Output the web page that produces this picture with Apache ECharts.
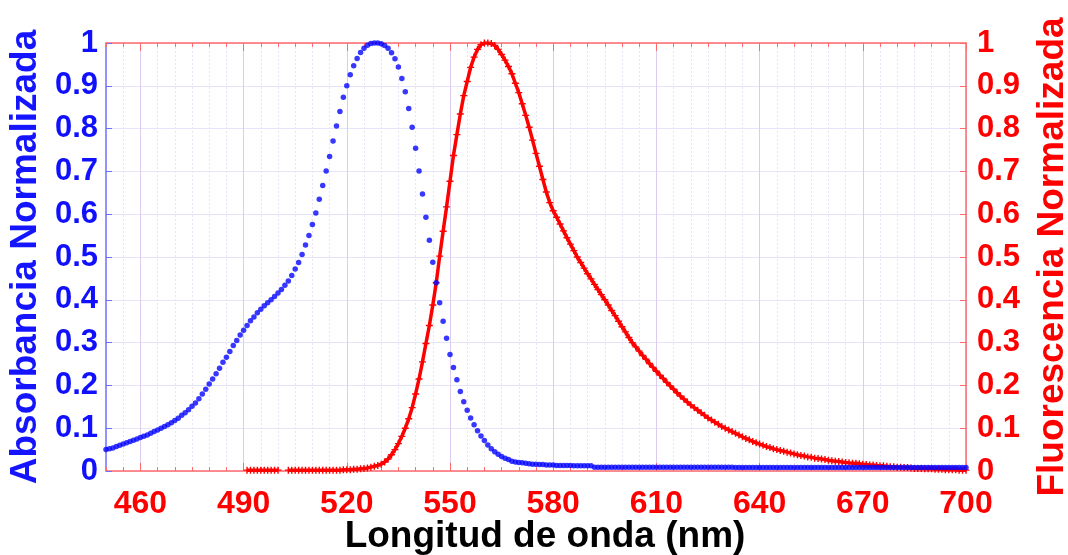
<!DOCTYPE html>
<html>
<head>
<meta charset="utf-8">
<script src="https://cdn.jsdelivr.net/npm/echarts@6/dist/echarts.min.js"></script>
<style>
html,body{margin:0;padding:0;background:#fff;overflow:hidden;width:1068px;height:555px;}
#chart{width:1068px;height:555px;}
</style>
</head>
<body>
<div id="chart"></div>
<script>
// ---- data ----
const xTickLabels = [460, 490, 520, 550, 580, 610, 640, 670, 700];
const yTickLabels = [0, 0.1, 0.2, 0.3, 0.4, 0.5, 0.6, 0.7, 0.8, 0.9, 1];

// Absorbance, 1 nm steps from 450 nm
const absStartNm = 450;
const absorbance = [
  0.050,0.052,0.054,0.057,0.060,0.063,0.066,0.069,0.072,0.075,
  0.078,0.081,0.084,0.088,0.092,0.096,0.100,0.104,0.108,0.113,
  0.118,0.123,0.130,0.136,0.143,0.151,0.159,0.169,0.180,0.191,
  0.203,0.215,0.227,0.240,0.254,0.266,0.279,0.293,0.305,0.318,
  0.329,0.340,0.351,0.360,0.370,0.378,0.386,0.393,0.400,0.408,
  0.416,0.424,0.434,0.444,0.457,0.472,0.487,0.506,0.528,0.550,
  0.576,0.603,0.635,0.667,0.701,0.735,0.771,0.806,0.840,0.873,
  0.900,0.926,0.947,0.964,0.978,0.988,0.995,0.999,1.000,1.000,
  0.998,0.994,0.988,0.977,0.963,0.944,0.917,0.886,0.847,0.803,
  0.754,0.701,0.647,0.593,0.539,0.488,0.440,0.393,0.350,0.310,
  0.272,0.242,0.213,0.186,0.162,0.142,0.124,0.108,0.094,0.082,
  0.071,0.061,0.052,0.045,0.039,0.034,0.030,0.027,0.023,0.021,
  0.020,0.019,0.018,0.017,0.016,0.016,0.015,0.015,0.014,0.014,
  0.014,
  0.013,0.013,0.013,0.013,0.013,0.012,0.012,0.012,0.012,0.012,0.012,
  0.009,0.009,0.009,0.009,0.009,0.009,0.009,0.009,0.009,0.009,
  0.009,0.009,0.009,0.009,0.009,0.009,0.009,0.009,0.009,0.009,
  0.009,0.009,0.009,0.009,0.009,0.009,0.009,0.009,0.009,0.009,
  0.009,0.009,0.009,0.009,0.009,0.009,0.009,0.009,0.009,0.009,
  0.009,
  0.008,0.008,0.008,0.008,0.008,0.008,0.008,0.008,0.008,0.008,
  0.008,0.008,0.008,0.008,0.008,0.008,0.008,0.008,0.008,0.008,
  0.008,0.008,0.008,0.008,0.008,0.008,0.008,0.008,0.008,0.008,
  0.008,0.008,0.008,0.008,0.008,0.008,0.008,0.008,0.008,0.008,
  0.008,0.008,0.008,0.008,0.008,0.008,0.008,0.008,0.008,0.008,
  0.008,0.008,0.008,0.008,0.008,0.008,0.008,0.008,0.008,0.008,
  0.008,0.008,0.008,0.008,0.008,0.008,0.008,0.008
];

// Fluorescence, 1 nm steps from 491 nm (null = no data)
const flStartNm = 491;
const fluorescence = [
  0.002,0.002,0.002,0.002,0.002,0.002,0.002,0.002,0.002,0.002,
  null,null,
  0.002,0.002,0.002,0.002,0.002,0.002,0.002,0.002,0.002,0.002,
  0.002,0.002,0.002,0.002,0.002,0.002,0.003,0.003,
  0.003,0.004,0.004,0.005,0.006,0.007,0.009,0.011,0.013,0.016,
  0.021,0.028,0.038,0.050,0.064,0.081,0.100,0.122,0.148,0.180,
  0.215,0.255,0.298,0.340,0.388,0.440,0.502,0.560,0.617,0.677,
  0.737,0.786,0.834,0.877,0.910,0.943,0.967,0.985,0.996,1.000,
  1.000,0.999,0.994,0.985,0.973,0.960,0.945,0.928,0.906,0.884,
  0.858,0.831,0.803,0.773,0.742,0.712,0.681,0.652,0.627,0.608,
  0.593,0.577,0.561,0.545,0.530,0.515,0.500,0.487,0.474,0.461,
  0.449,0.436,0.424,0.412,0.400,0.388,0.375,0.363,0.350,0.337,
  0.325,0.312,0.300,0.290,0.280,0.270,0.261,0.251,0.242,0.233,
  0.224,0.216,0.207,0.199,0.191,0.183,0.175,0.168,0.161,0.154,
  0.148,0.142,0.136,0.130,0.124,0.119,0.114,0.109,0.104,0.100,
  0.096,0.092,0.088,0.084,0.080,0.076,0.073,0.069,0.066,0.063,
  0.060,0.057,0.055,0.052,0.050,0.048,0.046,0.044,0.042,0.040,
  0.038,0.036,0.035,0.033,0.032,0.030,0.029,0.028,0.027,0.025,
  0.024,0.023,0.022,0.021,0.020,0.019,0.018,0.018,0.017,0.016,
  0.015,0.014,0.014,0.013,0.012,0.012,0.011,0.010,0.010,0.009,
  0.009,0.008,0.008,0.007,0.006,0.006,0.006,0.005,0.005,0.005,
  0.004,0.004,0.004,0.003,0.003,0.003,0.003,0.002,0.002,0.002
];

// ---- build ----
const absData = absorbance.map((v, i) => [absStartNm + i, v]);
const flData = fluorescence.map((v, i) => [flStartNm + i, v]);

const FONT = 'Liberation Sans, Arial, sans-serif';
const RED_AX = '#ff6b6b';
const BLUE_AX = '#7070ff';

const chart = echarts.init(document.getElementById('chart'), null, {renderer: 'canvas', width: 1068, height: 555});
const plusPath = 'path://M4,0H6V4H10V6H6V10H4V6H0V4H4Z';

chart.setOption({
  animation: false,
  backgroundColor: '#ffffff',
  grid: {left: 106, right: 102, top: 43, bottom: 84, containLabel: false, outerBoundsMode: 'none'},
  xAxis: [
    {
      type: 'value', min: 450, max: 700, interval: 5, position: 'bottom',
      axisLine: {show: true, lineStyle: {color: RED_AX, width: 1.5}},
      axisTick: {show: true, inside: true, length: 4, lineStyle: {color: RED_AX}},
      axisLabel: {customValues: xTickLabels, color: '#ff0000', fontSize: 32, fontWeight: 'bold', fontFamily: FONT, margin: 17},
      splitLine: {show: true, lineStyle: {color: '#ece4f4', type: [2, 2], width: 1}},
      name: 'Longitud de onda (nm)', nameLocation: 'middle', nameGap: 47, nameMoveOverlap: false,
      nameTextStyle: {color: '#000000', fontSize: 37, fontWeight: 'bold', fontFamily: FONT, padding: [0, 0, 0, 18]}
    },
    {
      type: 'value', min: 450, max: 700, position: 'bottom',
      axisLine: {show: false},
      axisTick: {show: true, inside: true, length: 8, customValues: xTickLabels, lineStyle: {color: RED_AX}},
      axisLabel: {show: false},
      splitLine: {show: true, lineStyle: {color: '#dccbee', width: 1}}
    },
    {
      type: 'value', min: 450, max: 700, interval: 5, position: 'top',
      axisLine: {show: true, lineStyle: {color: RED_AX, width: 1.5}},
      axisTick: {show: true, inside: true, length: 4, lineStyle: {color: RED_AX}},
      axisLabel: {show: false}, splitLine: {show: false}
    },
    {
      type: 'value', min: 450, max: 700, position: 'top',
      axisLine: {show: false},
      axisTick: {show: true, inside: true, length: 8, customValues: xTickLabels, lineStyle: {color: RED_AX}},
      axisLabel: {show: false}, splitLine: {show: false}
    }
  ],
  yAxis: [
    {
      type: 'value', min: 0, max: 1, interval: 0.1, position: 'left',
      axisLine: {show: true, lineStyle: {color: BLUE_AX, width: 1.5}},
      axisTick: {show: true, inside: true, length: 6, lineStyle: {color: BLUE_AX}},
      axisLabel: {color: '#1010ff', fontSize: 31, fontWeight: 'bold', fontFamily: FONT, margin: 8,
                  formatter: v => String(Math.round(v * 10) / 10)},
      splitLine: {show: true, lineStyle: {color: '#e4e4fa', width: 1}},
      name: 'Absorbancia Normalizada', nameLocation: 'middle', nameRotate: 90, nameGap: 62, nameMoveOverlap: false,
      nameTextStyle: {color: '#1414ff', fontSize: 37, fontWeight: 'bold', fontFamily: FONT}
    },
    {
      type: 'value', min: 0, max: 1, interval: 0.1, position: 'right',
      axisLine: {show: true, lineStyle: {color: RED_AX, width: 1.5}},
      axisTick: {show: true, inside: true, length: 6, lineStyle: {color: RED_AX}},
      axisLabel: {color: '#ff0000', fontSize: 31, fontWeight: 'bold', fontFamily: FONT, margin: 11,
                  formatter: v => String(Math.round(v * 10) / 10)},
      splitLine: {show: false},
      name: 'Fluorescencia Normalizada', nameLocation: 'middle', nameRotate: 90, nameGap: 68, nameMoveOverlap: false,
      nameTextStyle: {color: '#ff0000', fontSize: 37, fontWeight: 'bold', fontFamily: FONT}
    }
  ],
  series: [
    {
      name: 'Fluorescencia', type: 'line', xAxisIndex: 0, yAxisIndex: 1,
      data: flData, connectNulls: false,
      showSymbol: true, symbol: plusPath, symbolSize: 7,
      itemStyle: {color: '#ff0000'},
      lineStyle: {color: '#ff0000', width: 3.5},
      z: 3
    },
    {
      name: 'Absorbancia', type: 'scatter', xAxisIndex: 0, yAxisIndex: 0,
      data: absData, symbol: 'circle', symbolSize: 5.5,
      itemStyle: {color: '#0505ff'},
      z: 4
    }
  ]
});
</script>
</body>
</html>
